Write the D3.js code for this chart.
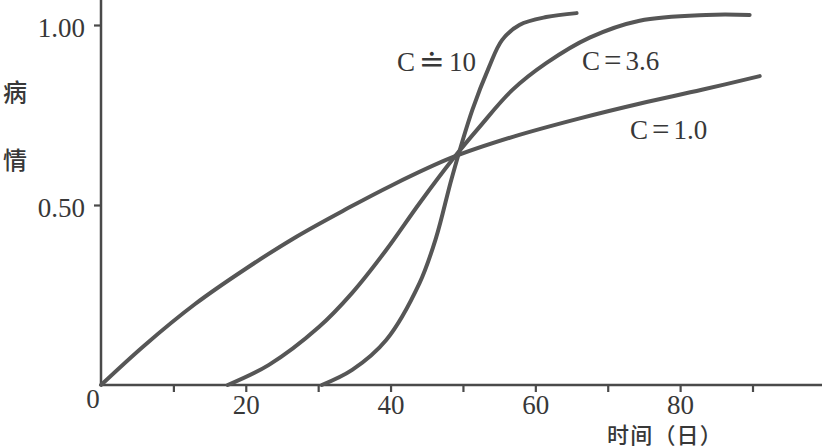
<!DOCTYPE html>
<html>
<head>
<meta charset="utf-8">
<script src="https://cdn.jsdelivr.net/npm/d3@7"></script>
<style>
  html, body { margin: 0; padding: 0; background: #ffffff; }
  svg { display: block; }
</style>
</head>
<body>
<div id="chart"></div>
<script>
// ---- data ----
const seriesNames = ["C=1.0", "C=3.6", "C≐10"];
const daysC1  = [0, 6, 13, 20, 27, 34, 40, 48.5, 57, 66, 74.5, 83, 91];
const valsC1  = [0, 0.11, 0.225, 0.323, 0.412, 0.49, 0.553, 0.632, 0.69, 0.74, 0.782, 0.82, 0.858];
const daysC36 = [17.5, 23.2, 30.1, 34.7, 39.4, 44.0, 48.5, 52.3, 56.8, 61.5, 67.5, 74.4, 83.6, 89.6];
const valsC36 = [0, 0.056, 0.161, 0.256, 0.375, 0.505, 0.625, 0.717, 0.819, 0.894, 0.965, 1.012, 1.028, 1.028];
const daysC10 = [30.5, 34.7, 39.4, 44.0, 46.3, 48.5, 51.3, 53.6, 55.4, 57.8, 61.5, 65.7];
const valsC10 = [0, 0.042, 0.125, 0.283, 0.41, 0.578, 0.764, 0.883, 0.958, 1.0, 1.022, 1.033];
const xTickValues = [10, 20, 30, 40, 50, 60, 70, 80, 90];
const xTickLabels = ["", "20", "", "40", "", "60", "", "80", ""];
const yTickValues = [0.5, 1.0];
const yTickLabels = ["0.50", "1.00"];
const xTitle = "时间（日）";
const yTitleChars = ["病", "情"];

// ---- layout ----
const W = 822, H = 448;
const x0 = 101, y0 = 385;
const x = d3.scaleLinear().domain([0, 99.6]).range([x0, 822]);
const y = d3.scaleLinear().domain([0, 1]).range([y0, 25]);

const ink = "#4a4a4a";
const textInk = "#383838";
const serif = "'Liberation Serif', 'DejaVu Serif', serif";

const svg = d3.select("#chart").append("svg")
  .attr("width", W).attr("height", H)
  .style("background", "#fff");

// axes lines
svg.append("line")
  .attr("x1", x0).attr("x2", x0).attr("y1", 0).attr("y2", y0)
  .attr("stroke", ink).attr("stroke-width", 2.5);
svg.append("line")
  .attr("x1", x0).attr("x2", W).attr("y1", y0).attr("y2", y0)
  .attr("stroke", ink).attr("stroke-width", 2.5);

// x axis ticks via d3 axis
const xAxis = d3.axisBottom(x)
  .tickValues(xTickValues)
  .tickSize(7)
  .tickFormat((d, i) => xTickLabels[i]);
const gx = svg.append("g").attr("transform", `translate(0,${y0})`).call(xAxis);
gx.select(".domain").remove();
gx.selectAll(".tick line").attr("stroke", ink).attr("stroke-width", 2.2);
gx.selectAll(".tick text")
  .attr("fill", textInk)
  .attr("font-family", serif)
  .attr("font-size", 27)
  .attr("dy", "0.72em");

// origin label
svg.append("text")
  .attr("x", x(0) - 8).attr("y", 408)
  .attr("text-anchor", "middle")
  .attr("fill", textInk)
  .attr("font-family", serif)
  .attr("font-size", 27)
  .text("0");

// y axis ticks via d3 axis
const yAxis = d3.axisLeft(y)
  .tickValues(yTickValues)
  .tickSize(7)
  .tickFormat((d, i) => yTickLabels[i]);
const gy = svg.append("g").attr("transform", `translate(${x0},0)`).call(yAxis);
gy.select(".domain").remove();
gy.selectAll(".tick line").attr("stroke", ink).attr("stroke-width", 2.2);
gy.selectAll(".tick text")
  .attr("fill", textInk)
  .attr("x", -16)
  .attr("dy", "0.42em")
  .attr("font-family", serif)
  .attr("font-size", 27);

// y title (vertical chars)
svg.selectAll(".ytitle").data(yTitleChars).enter().append("text")
  .attr("class", "ytitle")
  .attr("x", 15)
  .attr("y", (d, i) => 101 + i * 68)
  .attr("text-anchor", "middle")
  .attr("fill", textInk)
  .attr("font-family", "'Noto Sans CJK SC', sans-serif")
  .attr("font-weight", 500)
  .attr("font-size", 24)
  .text(d => d);

// x title
svg.append("text")
  .attr("x", 607).attr("y", 443)
  .attr("fill", textInk)
  .attr("font-family", "'Liberation Sans', 'Noto Sans CJK SC', sans-serif")
  .attr("font-weight", 500)
  .attr("font-size", 22)
  .attr("letter-spacing", 1.2)
  .text(xTitle);

// curves
const series = [
  { name: seriesNames[0], pts: daysC1.map((d, i) => [d, valsC1[i]]) },
  { name: seriesNames[1], pts: daysC36.map((d, i) => [d, valsC36[i]]) },
  { name: seriesNames[2], pts: daysC10.map((d, i) => [d, valsC10[i]]) }
];
const line = d3.line()
  .x(d => x(d[0])).y(d => y(d[1]))
  .curve(d3.curveCatmullRom.alpha(0.5));
svg.selectAll(".curve").data(series).enter().append("path")
  .attr("class", "curve")
  .attr("d", d => line(d.pts))
  .attr("fill", "none")
  .attr("stroke", "#565656")
  .attr("stroke-width", 4)
  .attr("stroke-linecap", "round");

// curve labels: "C", sign, number — widened sign spacing like the reference
const labelPos = [
  { name: seriesNames[0], x: 630, y: 139 },
  { name: seriesNames[1], x: 582, y: 70 },
  { name: seriesNames[2], x: 397, y: 71 }
];
labelPos.forEach(l => {
  const parts = [l.name.slice(0, 1), l.name.slice(1, 2), l.name.slice(2)];
  const t = svg.append("text")
    .attr("class", "clabel")
    .attr("x", l.x).attr("y", l.y)
    .attr("fill", textInk)
    .attr("font-family", serif)
    .attr("font-size", 27);
  t.append("tspan").text(parts[0]);
  t.append("tspan").attr("dx", 4).attr("font-size", 31).attr("dy", 1).text(parts[1]);
  t.append("tspan").attr("dx", 4).attr("dy", -1).text(parts[2]);
});
</script>
</body>
</html>
